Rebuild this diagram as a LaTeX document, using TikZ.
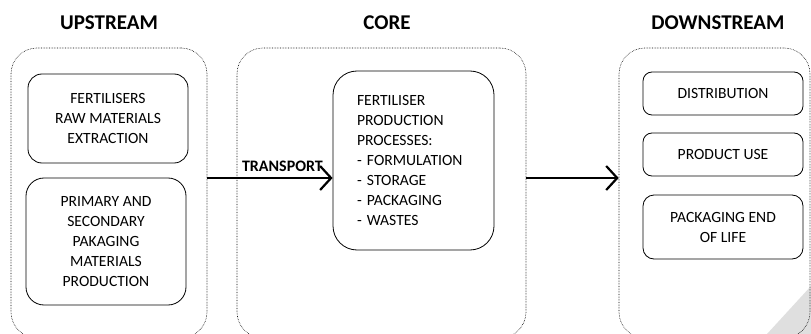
\documentclass[tikz,border=0pt]{standalone}
\usepackage{fontspec}
\setmainfont{Carlito}
\usetikzlibrary{positioning,arrows.meta}

\tikzset{
  fase/.style={draw, densely dotted, line width=0.6pt, rounded corners=26pt},
  blocco/.style={draw, line width=0.8pt, align=center, inner sep=0pt,
    font=\fontsize{15.6}{20}\selectfont},
  titolo/.style={font=\bfseries\fontsize{21}{24}\selectfont},
  freccia/.style={line width=2.2pt, -{Straight Barb[length=11pt,width=24pt,line width=2.2pt]}}
}

\begin{document}
\begin{tikzpicture}[x=1pt,y=-1pt]
        \useasboundingbox (0,0) rectangle (811,334);
        \clip (0,0) rectangle (811,334);
        % Piega pagina
        \fill[gray!25] (767,334) -- (811,334) -- (811,286) -- cycle;
        % Titoli
        \node[titolo] (tup) at (109,23) {UPSTREAM};
        \node[titolo] (tcore) at (387,23) {CORE};
        \node[titolo] (tdown) at (718,23) {DOWNSTREAM};
        % Fasi
        \node[fase, minimum width=196pt, minimum height=290pt] (up) at (109,193) {};
        \node[fase, minimum width=289pt, minimum height=290pt] (core) at (381.5,193) {};
        \node[fase, minimum width=191pt, minimum height=290pt] (down) at (714.5,193) {};
        % Upstream
        \node[blocco, rounded corners=14pt, minimum width=160pt, minimum height=89pt] (fert) at (108,118.5)
            {FERTILISERS\\RAW MATERIALS\\EXTRACTION};
        \node[blocco, rounded corners=18pt, minimum width=160pt, minimum height=127pt] (pack) at (106,241.5)
            {PRIMARY AND\\SECONDARY\\PAKAGING\\MATERIALS\\PRODUCTION};
        % Core
        \node[blocco, rounded corners=24pt, align=left, text width=113pt, inner xsep=24pt,
            minimum height=179pt] (proc) at (413.5,160.5)
            {FERTILISER\\PRODUCTION\\PROCESSES:\\- FORMULATION\\- STORAGE\\- PACKAGING\\- WASTES};
        % Downstream
        \node[blocco, rounded corners=9pt, minimum width=160pt, minimum height=43pt] (dist) at (723,93.5) {DISTRIBUTION};
        \node[blocco, rounded corners=9pt, minimum width=160pt, minimum height=43pt] (uso) at (723,154.5) {PRODUCT USE};
        \node[blocco, rounded corners=11pt, minimum width=160pt, minimum height=64pt] (fine) at (723,227)
            {PACKAGING END\\OF LIFE};
        % Frecce
        \coordinate (liv) at (0,178);
        \draw[freccia] (up.east |- liv) -- (proc.west |- liv)
            node[pos=0.6, above=2pt, font=\bfseries\fontsize{16}{18}\selectfont] (tr) {TRANSPORT};
        \draw[freccia] (core.east |- liv) -- (down.west |- liv);
    \end{tikzpicture}
\end{document}
